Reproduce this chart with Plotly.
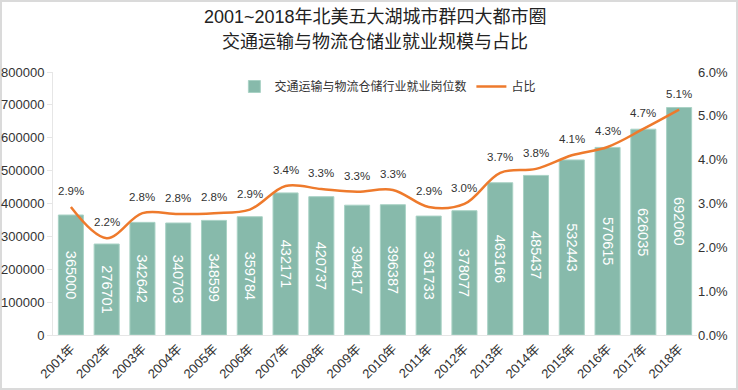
import plotly.graph_objects as go

years = [f"{y}年" for y in range(2001, 2019)]
jobs = [365000, 276701, 342642, 340703, 348599, 359784, 432171, 420737, 394817,
        396387, 361733, 378077, 463166, 485437, 532443, 570615, 626035, 692060]
share = [2.92, 2.21, 2.78, 2.76, 2.78, 2.86, 3.40, 3.33, 3.27,
         3.31, 2.92, 2.99, 3.70, 3.79, 4.10, 4.29, 4.70, 5.14]
title_lines = ["2001~2018年北美五大湖城市群四大都市圈", "交通运输与物流仓储业就业规模与占比"]

FONT = "Liberation Sans, Noto Sans CJK SC, sans-serif"
ML, MR, MT, MB = 53, 41, 72, 55
PW, PH = 738 - ML - MR, 390 - MT - MB

fig = go.Figure()
fig.add_trace(go.Bar(
    x=years, y=jobs, name="交通运输与物流仓储行业就业岗位数",
    marker=dict(color="#87BAAB", line=dict(color="#A9D2C5", width=1)),
    text=[str(v) for v in jobs], textposition="inside", insidetextanchor="middle",
    textangle=90, textfont=dict(color="white", size=14.5, family=FONT),
))
fig.add_trace(go.Scatter(
    x=years, y=share, name="占比", yaxis="y2", mode="lines",
    line=dict(color="#EE7A2C", width=2.5, shape="spline", smoothing=1),
))

annotations = [dict(x=x, y=s, xref="x", yref="y2", text=f"{s:.1f}%", showarrow=False,
                    yshift=16, font=dict(size=11.5, color="#333333"))
               for x, s in zip(years, share)]
annotations.append(dict(x=0.5, y=1 + (MT - 17) / PH, xref="paper", yref="paper",
                        text=title_lines[0], showarrow=False, xanchor="center", yanchor="middle",
                        font=dict(size=18, color="#222222")))
annotations.append(dict(x=0.5, y=1 + (MT - 42) / PH, xref="paper", yref="paper",
                        text=title_lines[1], showarrow=False, xanchor="center", yanchor="middle",
                        font=dict(size=18, color="#222222")))

fig.update_layout(
    width=738, height=390,
    margin=dict(l=ML, r=MR, t=MT, b=MB, autoexpand=False),
    paper_bgcolor="white", plot_bgcolor="white",
    font=dict(family=FONT, color="#333333", size=12),
    bargap=0.3,
    showlegend=True,
    legend=dict(orientation="h", x=0.52, xanchor="center", y=1.0, yanchor="top",
                font=dict(size=12), bgcolor="rgba(0,0,0,0)", itemwidth=30),
    xaxis=dict(tickangle=-45, showline=True, linecolor="#E6E6E6", ticks="",
               tickfont=dict(size=13), automargin=False),
    yaxis=dict(range=[0, 800000], dtick=100000, showgrid=False, showline=True,
               linecolor="#E6E6E6", ticks="outside", ticklen=5, tickcolor="#E6E6E6",
               tickformat="d", tickfont=dict(size=13), zeroline=False, automargin=False),
    yaxis2=dict(range=[0, 6], dtick=1, overlaying="y", side="right", showgrid=False,
                tickformat=".1f", ticksuffix="%", tickfont=dict(size=13), zeroline=False,
                automargin=False),
    annotations=annotations,
    shapes=[dict(type="rect", xref="paper", yref="paper",
                 x0=-(ML - 1) / PW, x1=1 + (MR - 1) / PW, y0=-(MB - 1) / PH, y1=1 + (MT - 1) / PH,
                 line=dict(color="#DADADA", width=2), layer="below")],
)

fig.write_html("out.html", config={"displayModeBar": False},
               post_script="document.body.style.margin='0';document.body.style.padding='0';")
